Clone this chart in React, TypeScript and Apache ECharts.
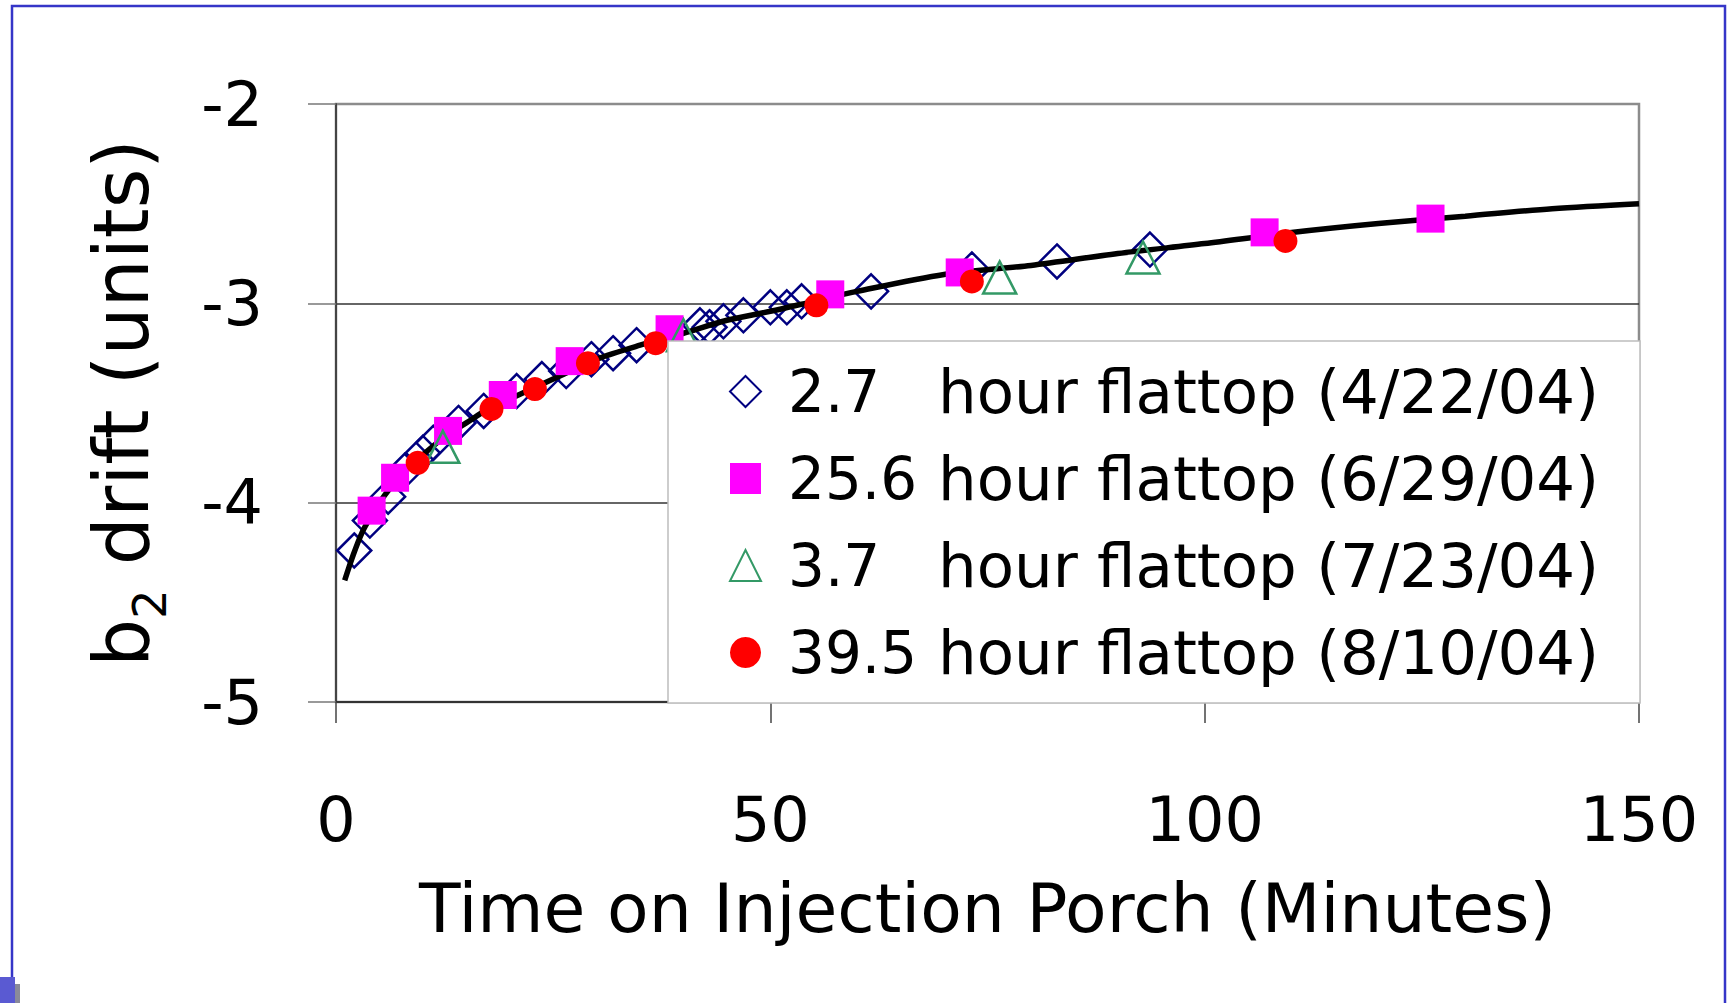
import React, { useEffect, useRef } from "react";
import * as echarts from "echarts";

// ---- data ----
const xTicks = [0, 50, 100, 150];
const yTicks = [-5, -4, -3, -2];

const s27X = [2.1, 3.9, 6.0, 7.9, 10.0, 11.2, 14.1, 17.0, 20.8, 23.7, 26.5, 29.4, 31.9, 34.6, 41.9, 43.0, 44.6, 46.9, 50.0, 51.9, 53.6, 61.6, 73.2, 83.0, 93.7];
const s27Y = [-4.24, -4.09, -3.97, -3.84, -3.75, -3.70, -3.60, -3.54, -3.44, -3.38, -3.34, -3.28, -3.25, -3.21, -3.11, -3.12, -3.09, -3.06, -3.02, -3.02, -2.99, -2.94, -2.83, -2.79, -2.73];

const s256X = [4.1, 6.8, 12.9, 19.2, 26.9, 38.4, 56.9, 71.8, 106.9, 126.0];
const s256Y = [-4.04, -3.875, -3.64, -3.46, -3.29, -3.13, -2.955, -2.845, -2.644, -2.575];

const s37X = [12.3, 40.0, 76.4, 92.9];
const s37Y = [-3.72, -3.16, -2.87, -2.77];

const s395X = [9.4, 17.9, 22.9, 29.0, 36.8, 55.3, 73.2, 109.3];
const s395Y = [-3.80, -3.53, -3.43, -3.30, -3.20, -3.01, -2.89, -2.687];

const fitX = [1, 2, 3, 4, 5, 6, 8, 10, 12.5, 15, 17.5, 20, 25, 30, 35, 40, 45, 50, 55, 60, 70, 80, 90, 100, 110, 120, 130, 140, 150];
const fitY = [-4.39, -4.26, -4.15, -4.07, -4.0, -3.94, -3.84, -3.76, -3.67, -3.6, -3.53, -3.48, -3.38, -3.28, -3.21, -3.15, -3.085, -3.04, -2.99, -2.94, -2.855, -2.81, -2.75, -2.7, -2.645, -2.6, -2.563, -2.525, -2.5];

const seriesNames = [
  "2.7 hour flattop (4/22/04)",
  "25.6 hour flattop (6/29/04)",
  "3.7 hour flattop (7/23/04)",
  "39.5 hour flattop (8/10/04)",
];

const FONT = "'DejaVu Sans', sans-serif";

const zip = (xs: number[], ys: number[]) => xs.map((x, i) => [x, ys[i]]);

export default function App() {
  const ref = useRef<HTMLDivElement>(null);
  useEffect(() => {
    if (!ref.current) return;
    const chart = echarts.init(ref.current, null, { renderer: "svg" });
    const option: any = {
      animation: false,
      backgroundColor: "#ffffff",
      textStyle: { fontFamily: FONT },
      grid: {
        left: 336,
        right: 88,
        top: 104,
        bottom: 301,
        show: true,
        borderColor: "#8c8c8c",
        borderWidth: 2.5,
        backgroundColor: "transparent",
      },
      xAxis: {
        type: "value",
        min: xTicks[0],
        max: xTicks[xTicks.length - 1],
        interval: 50,
        name: "Time on Injection Porch (Minutes)",
        nameLocation: "middle",
        nameGap: 172,
        nameTextStyle: { fontFamily: FONT, fontSize: 68, color: "#000" },
        axisLine: { onZero: false, lineStyle: { color: "#333", width: 2 } },
        axisTick: { show: true, length: 21, lineStyle: { color: "#444", width: 1.5 } },
        axisLabel: { margin: 86, fontFamily: FONT, fontSize: 62, color: "#000" },
        splitLine: { show: false },
      },
      yAxis: {
        type: "value",
        min: yTicks[0],
        max: yTicks[yTicks.length - 1],
        interval: 1,
        name: "{b|b}{s|2}{b| drift (units)}",
        nameLocation: "middle",
        nameRotate: 90,
        nameGap: 177,
        nameTextStyle: {
          fontFamily: FONT,
          color: "#000",
          rich: {
            b: { fontFamily: FONT, fontSize: 76, color: "#000", lineHeight: 84, verticalAlign: "bottom" },
            s: { fontFamily: FONT, fontSize: 46, color: "#000", lineHeight: 60, verticalAlign: "bottom", padding: [0, 0, -14, 0] },
          },
        },
        axisLine: { show: true, onZero: false, lineStyle: { color: "#444", width: 2 } },
        axisTick: { show: true, length: 28, lineStyle: { color: "#777", width: 1.5 } },
        axisLabel: { margin: 73, fontFamily: FONT, fontSize: 62, color: "#000" },
        splitLine: { show: true, showMaxLine: false, lineStyle: { color: "#333", width: 1.5 } },
      },
      legend: {
        data: seriesNames,
        orient: "vertical",
        left: 729,
        top: 361,
        padding: 0,
        itemWidth: 31,
        itemHeight: 31,
        itemGap: 26,
        z: 20,
        selectedMode: false,
        formatter: (name: string) => {
          const i = name.indexOf(" ");
          return "{s| }{n|" + name.slice(0, i) + "}{h|" + name.slice(i + 1) + "}";
        },
        textStyle: {
          fontFamily: FONT,
          fontSize: 61,
          color: "#000",
          rich: {
            s: { width: 22, fontSize: 61, lineHeight: 62, fontFamily: FONT },
            n: { width: 150, fontSize: 58, lineHeight: 62, fontFamily: FONT, color: "#000" },
            h: { fontSize: 61, lineHeight: 62, fontFamily: FONT, color: "#000" },
          },
        },
      },
      graphic: [
        {
          type: "rect",
          z: 10,
          shape: { x: 668, y: 341, width: 972, height: 362 },
          style: { fill: "#ffffff", stroke: "#bdbdbd", lineWidth: 1.5 },
          silent: true,
        },
        {
          type: "rect",
          z: 30,
          shape: { x: 12, y: 6, width: 1713, height: 1100 },
          style: { fill: "none", stroke: "#3535c8", lineWidth: 2.5 },
          silent: true,
        },
        {
          type: "rect",
          z: 30,
          shape: { x: 0, y: 984, width: 20, height: 19 },
          style: { fill: "#8a8a9a" },
          silent: true,
        },
        {
          type: "rect",
          z: 31,
          shape: { x: 0, y: 977, width: 15, height: 26 },
          style: { fill: "#5a5ad2" },
          silent: true,
        },
      ],
      series: [
        {
          name: seriesNames[0],
          type: "scatter",
          symbol: "diamond",
          symbolSize: 34,
          z: 2,
          itemStyle: { color: "transparent", borderColor: "#000080", borderWidth: 2.5, opacity: 1 },
          data: zip(s27X, s27Y),
        },
        {
          name: "fit",
          type: "line",
          smooth: 0.3,
          showSymbol: false,
          symbol: "none",
          z: 3,
          lineStyle: { color: "#000", width: 5.5 },
          data: zip(fitX, fitY),
        },
        {
          name: seriesNames[1],
          type: "scatter",
          symbol: "rect",
          symbolSize: 28,
          z: 4,
          itemStyle: { color: "#ff00ff", opacity: 1 },
          data: zip(s256X, s256Y),
        },
        {
          name: seriesNames[2],
          type: "scatter",
          symbol: "triangle",
          symbolSize: [33, 32],
          z: 5,
          itemStyle: { color: "transparent", borderColor: "#339966", borderWidth: 2.5, opacity: 1 },
          data: zip(s37X, s37Y),
        },
        {
          name: seriesNames[3],
          type: "scatter",
          symbol: "circle",
          symbolSize: 24,
          z: 6,
          itemStyle: { color: "#ff0000", opacity: 1 },
          data: zip(s395X, s395Y),
        },
      ],
    };
    chart.setOption(option);
    return () => chart.dispose();
  }, []);
  return (
    <div
      ref={ref}
      style={{ position: "fixed", left: 0, top: 0, width: 1727, height: 1003, background: "#fff" }}
    />
  );
}
